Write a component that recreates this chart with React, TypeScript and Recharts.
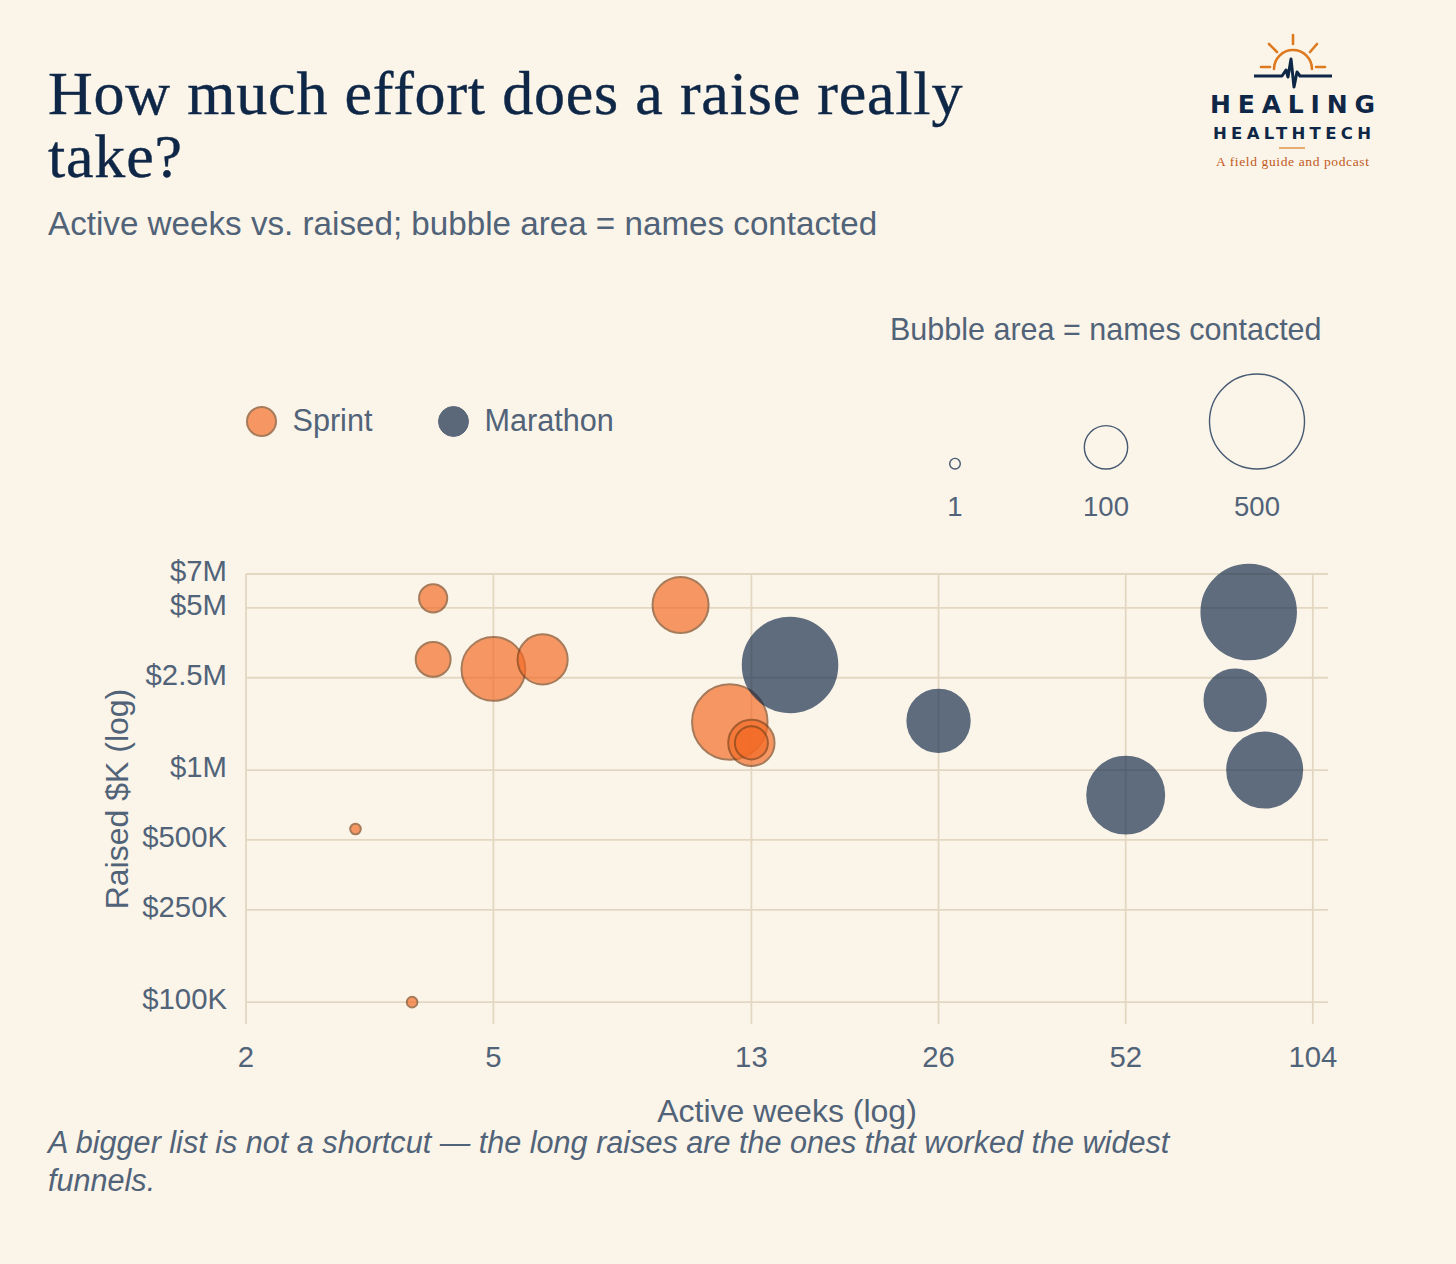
import { CartesianGrid, Scatter, ScatterChart, XAxis, YAxis, ZAxis } from 'recharts';

const sprintWeeks = [3, 3.7, 4, 4, 5, 6, 10, 12, 13, 13];
const sprintRaised = [557, 100, 5500, 3000, 2730, 3000, 5150, 1610, 1310, 1310];
const sprintNames = [1, 1, 40, 64, 227, 138, 174, 320, 117, 57];

const marathonWeeks = [15, 26, 52, 78, 82, 87];
const marathonRaised = [2840, 1630, 780, 2000, 4800, 1000];
const marathonNames = [510, 220, 337, 213, 510, 320];

const weekTicks = [2, 5, 13, 26, 52, 104];
const raisedTicks = [100, 250, 500, 1000, 2500, 5000, 7000];
const raisedLabels: Record<number, string> = {
  100: '$100K',
  250: '$250K',
  500: '$500K',
  1000: '$1M',
  2500: '$2.5M',
  5000: '$5M',
  7000: '$7M',
};

const sizeKeys = ['1', '100', '500'];
const sizeNames = [1, 100, 500];

const zip = (xs: number[], ys: number[], zs: number[]) =>
  xs.map((x, i) => ({ x, y: ys[i], z: zs[i] }));

const sprint = zip(sprintWeeks, sprintRaised, sprintNames);
const marathon = zip(marathonWeeks, marathonRaised, marathonNames);
const sizeData = sizeKeys.map((k, i) => ({ k, y: 0, z: sizeNames[i] }));

const NAVY = '#0f2747';
const SLATE = '#516378';
const GRID = '#e4d7c2';
const BG = '#fbf4e9';
const ORANGE = '#f46a25';
const BROWN = '#7f4218';
const SANS = '"Liberation Sans", Arial, sans-serif';
const Z_DOMAIN = [1, 500];
const Z_RANGE = [88, 7088];

const tickStyle = { fill: SLATE, fontSize: 29.3, fontFamily: SANS };

function RaisedTick({ x, y, payload }: { x: number; y: number; payload: { value: number } }) {
  return (
    <text x={x} y={y - 3} dy="0.35em" textAnchor="end" {...tickStyle}>
      {raisedLabels[payload.value]}
    </text>
  );
}

function RaisedTitle({ viewBox }: { viewBox: { y: number; height: number } }) {
  const cy = viewBox.y + viewBox.height / 2;
  return (
    <text
      x={117}
      y={cy}
      dy="0.35em"
      textAnchor="middle"
      transform={`rotate(-90, 117, ${cy})`}
      {...tickStyle}
      fontSize={32}
    >
      Raised $K (log)
    </text>
  );
}

function SizeBubble({ cx, cy, size }: { cx: number; cy: number; size: number }) {
  const r = Math.sqrt(size / Math.PI);
  return <circle cx={cx} cy={cy - r} r={r} fill="none" stroke="#465a72" strokeWidth={1.4} />;
}

function Logo() {
  return (
    <svg width={220} height={160} style={{ position: 'absolute', left: 1180, top: 20 }}>
      <g stroke="#dd7a1f" strokeWidth={2.6} fill="none" strokeLinecap="round">
        <path d="M94 49 A19 19 0 0 1 132 49" />
        <path d="M113 15 V24" />
        <path d="M89 24 L97 32" />
        <path d="M137 24 L130 32" />
        <path d="M81 47 H90" />
        <path d="M136 47 H145" />
      </g>
      <path
        d="M74 56 H102 L106 50 L108 57 L111 39 L114 67 L117 52 L120 56 H152"
        stroke={NAVY}
        strokeWidth={3}
        strokeLinejoin="round"
        fill="none"
      />
      <text x={30} y={93} textLength={165} lengthAdjust="spacing" fill={NAVY} fontFamily='"DejaVu Sans", sans-serif' fontWeight={700} fontSize={25}>
        HEALING
      </text>
      <text x={33} y={119} textLength={158} lengthAdjust="spacing" fill={NAVY} fontFamily='"DejaVu Sans", sans-serif' fontWeight={700} fontSize={16.5}>
        HEALTHTECH
      </text>
      <path d="M99 128 H125" stroke="#dd7a1f" strokeWidth={1.2} />
      <text x={36} y={146} textLength={153} lengthAdjust="spacing" fill="#c05a20" fontFamily='"Liberation Serif", serif' fontSize={13.5}>
        A field guide and podcast
      </text>
    </svg>
  );
}

const abs = (left: number, top: number, extra = {}) => ({
  position: 'absolute' as const,
  left,
  top,
  margin: 0,
  whiteSpace: 'nowrap' as const,
  ...extra,
});

function LegendDot({ left, color, label }: { left: number; color: string; label: string }) {
  return (
    <>
      <div
        style={abs(left, 405.5, {
          width: 31,
          height: 31,
          boxSizing: 'border-box',
          borderRadius: '50%',
          background: color,
          opacity: 0.68,
          border: color === NAVY ? `1.5px solid ${NAVY}` : `2px solid ${BROWN}`,
        })}
      />
      <div style={abs(left + 47, 403, { fontFamily: SANS, fontSize: 30.6, color: SLATE, lineHeight: '34px' })}>{label}</div>
    </>
  );
}

export default function App() {
  return (
    <div style={{ position: 'absolute', left: 0, top: 0, width: 1456, height: 1264, background: BG, overflow: 'hidden' }}>
      <div
        style={abs(48, 62, {
          fontFamily: '"Liberation Serif", serif',
          fontSize: 62,
          lineHeight: '63px',
          color: NAVY,
          letterSpacing: 0.8,
          WebkitTextStroke: '0.4px #0f2747',
        })}
      >
        How much effort does a raise really
        <br />
        take?
      </div>
      <div style={abs(48, 205, { fontFamily: SANS, fontSize: 33.2, lineHeight: '38px', color: SLATE })}>
        Active weeks vs. raised; bubble area = names contacted
      </div>
      <Logo />

      <div style={abs(890, 312, { fontFamily: SANS, fontSize: 30.5, lineHeight: '34px', color: SLATE })}>
        Bubble area = names contacted
      </div>
      <LegendDot left={245.5} color={ORANGE} label="Sprint" />
      <LegendDot left={437.5} color={NAVY} label="Marathon" />

      <div style={abs(0, 0)}>
        <ScatterChart width={1456} height={1264} margin={{ top: 574, right: 128, bottom: 130, left: 96 }}>
          <CartesianGrid stroke={GRID} strokeWidth={1.8} verticalValues={weekTicks} horizontalValues={raisedTicks} />
          <XAxis
            dataKey="x"
            type="number"
            scale="log"
            domain={[2, 110]}
            ticks={weekTicks}
            interval={0}
            axisLine={false}
            tickLine={false}
            tick={tickStyle}
            tickMargin={16}
            height={110}
            label={{ value: 'Active weeks (log)', position: 'insideTop', offset: 75, ...tickStyle, fontSize: 32 }}
          />
          <YAxis
            dataKey="y"
            type="number"
            scale="log"
            domain={[80.5, 7000]}
            ticks={raisedTicks}
            interval={0}
            axisLine={false}
            tickLine={false}
            tick={RaisedTick as never}
            tickMargin={13}
            width={150}
            label={RaisedTitle as never}
          />
          <ZAxis dataKey="z" type="number" domain={Z_DOMAIN} range={Z_RANGE} />
          <Scatter data={sprint} fill={ORANGE} stroke={BROWN} strokeWidth={2} opacity={0.68} isAnimationActive={false} />
          <Scatter data={marathon} fill={NAVY} stroke={NAVY} strokeWidth={1.5} opacity={0.66} isAnimationActive={false} />
        </ScatterChart>
      </div>

      <div style={abs(805, 360)}>
        <ScatterChart width={600} height={170} margin={{ top: 10, right: 148, bottom: 0, left: 150 }}>
          <XAxis
            dataKey="k"
            type="category"
            scale="point"
            axisLine={false}
            tickLine={false}
            tick={{ ...tickStyle, fontSize: 27.5 }}
            tickMargin={21}
            height={61}
            interval={0}
          />
          <YAxis dataKey="y" type="number" domain={[0, 1]} hide />
          <ZAxis dataKey="z" type="number" domain={Z_DOMAIN} range={Z_RANGE} />
          <Scatter data={sizeData} shape={SizeBubble as never} isAnimationActive={false} />
        </ScatterChart>
      </div>

      <div style={abs(48, 1123, { fontFamily: SANS, fontStyle: 'italic', fontSize: 30.6, lineHeight: '38px', color: SLATE })}>
        A bigger list is not a shortcut — the long raises are the ones that worked the widest
        <br />
        funnels.
      </div>
    </div>
  );
}
